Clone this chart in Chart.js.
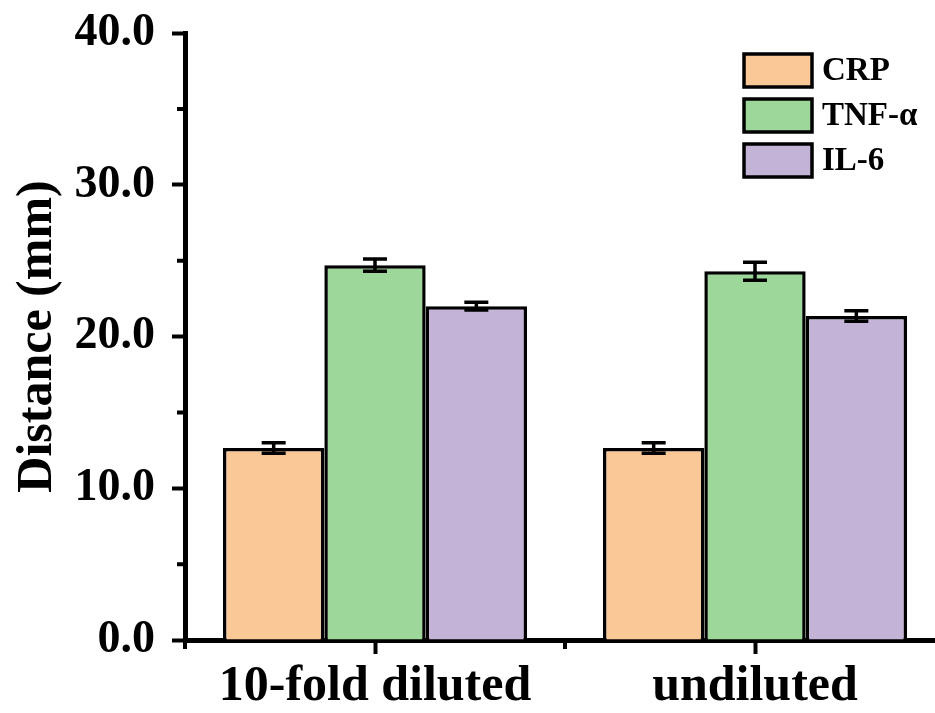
<!DOCTYPE html>
<html>
<head>
<meta charset="utf-8">
<script src="https://cdn.jsdelivr.net/npm/chart.js@4.4.1/dist/chart.umd.min.js"></script>
<style>
  html, body { margin: 0; padding: 0; background: #fff; overflow: hidden; }
  canvas { display: block; }
</style>
</head>
<body>
<canvas id="chart" width="960" height="713"></canvas>
<script>
// values
const categories = ['10-fold diluted', 'undiluted'];
const seriesNames = ['CRP', 'TNF-\u03b1', 'IL-6'];
const crpMeans = [12.65, 12.65];
const crpErrors = [0.35, 0.35];
const tnfMeans = [24.7, 24.3];
const tnfErrors = [0.4, 0.6];
const il6Means = [22.0, 21.35];
const il6Errors = [0.25, 0.35];
const yMinorTicks = [5, 15, 25, 35];

const colors = ['#FAC896', '#9DD79A', '#C3B3D7'];
const FONT = '"Liberation Serif", "Times New Roman", serif';

// error bars drawn from the y scale
const errorBars = {
  id: 'errorBars',
  afterDatasetsDraw(chart) {
    const ctx = chart.ctx;
    const y = chart.scales.y;
    ctx.save();
    ctx.strokeStyle = '#000';
    ctx.lineWidth = 3.5;
    chart.data.datasets.forEach((ds, i) => {
      const meta = chart.getDatasetMeta(i);
      meta.data.forEach((bar, j) => {
        const v = ds.data[j], e = ds.errors[j];
        const yt = y.getPixelForValue(v + e);
        const yb = y.getPixelForValue(v - e);
        const cap = 12;
        ctx.beginPath();
        ctx.moveTo(bar.x, yt); ctx.lineTo(bar.x, yb);
        ctx.moveTo(bar.x - cap, yt); ctx.lineTo(bar.x + cap, yt);
        ctx.moveTo(bar.x - cap, yb); ctx.lineTo(bar.x + cap, yb);
        ctx.stroke();
      });
    });
    ctx.restore();
  }
};

// short minor ticks on both axes
const minorTicks = {
  id: 'minorTicks',
  afterDraw(chart) {
    const ctx = chart.ctx;
    const { x, y } = chart.scales;
    const area = chart.chartArea;
    ctx.save();
    ctx.strokeStyle = '#000';
    ctx.lineWidth = 4;
    ctx.beginPath();
    yMinorTicks.forEach(v => {
      const py = y.getPixelForValue(v);
      ctx.moveTo(area.left - 8, py); ctx.lineTo(area.left, py);
    });
    const p0 = x.getPixelForValue(0), p1 = x.getPixelForValue(1);
    [p0 - (p1 - p0) / 2, (p0 + p1) / 2].forEach(px => {
      ctx.moveTo(px, area.bottom); ctx.lineTo(px, area.bottom + 9);
    });
    ctx.stroke();
    ctx.restore();
  }
};

// legend boxes in the upper right
const boxLegend = {
  id: 'boxLegend',
  afterDraw(chart) {
    const ctx = chart.ctx;
    ctx.save();
    ctx.font = 'bold 33px ' + FONT;
    ctx.textBaseline = 'middle';
    chart.data.datasets.forEach((ds, i) => {
      const top = 54 + i * 45;
      ctx.fillStyle = ds.backgroundColor;
      ctx.fillRect(744, top, 68, 33);
      ctx.lineWidth = 3.5;
      ctx.strokeStyle = '#000';
      ctx.strokeRect(744, top, 68, 33);
      ctx.fillStyle = '#000';
      ctx.fillText(ds.label, 822, top + 17);
    });
    ctx.restore();
  }
};

new Chart(document.getElementById('chart'), {
  type: 'bar',
  data: {
    labels: categories,
    datasets: [
      { label: seriesNames[0], data: crpMeans, errors: crpErrors, backgroundColor: colors[0] },
      { label: seriesNames[1], data: tnfMeans, errors: tnfErrors, backgroundColor: colors[1] },
      { label: seriesNames[2], data: il6Means, errors: il6Errors, backgroundColor: colors[2] }
    ].map(d => Object.assign(d, { borderColor: '#000', borderWidth: 3.5, categoryPercentage: 0.8, barPercentage: 1.0 }))
  },
  options: {
    responsive: false,
    animation: false,
    devicePixelRatio: 1,
    layout: { padding: { left: 0, top: 33, right: 15, bottom: 0 } },
    plugins: { legend: { display: false }, tooltip: { enabled: false } },
    scales: {
      x: {
        afterFit(scale) { scale.height = 73; scale.paddingLeft = 0; scale.paddingRight = 0; },
        grid: { offset: false, drawOnChartArea: false, tickLength: 14, tickWidth: 4, tickColor: '#000' },
        border: { display: true, width: 5, color: '#000' },
        ticks: { color: '#000', padding: 3, font: { family: FONT, size: 50, weight: 'bold' } }
      },
      y: {
        min: 0,
        max: 40,
        afterFit(scale) { scale.width = 185; scale.paddingTop = 0; scale.paddingBottom = 0; },
        grid: { drawOnChartArea: false, tickLength: 13, tickWidth: 4, tickColor: '#000' },
        border: { display: true, width: 5, color: '#000' },
        ticks: {
          stepSize: 10,
          color: '#000',
          padding: 17,
          font: { family: FONT, size: 46, weight: 'bold' },
          callback: v => v.toFixed(1)
        },
        title: {
          display: true,
          text: 'Distance (mm)',
          color: '#000',
          padding: { top: 8, bottom: 0 },
          font: { family: FONT, size: 50, weight: 'bold' }
        }
      }
    }
  },
  plugins: [errorBars, minorTicks, boxLegend]
});
</script>
</body>
</html>
